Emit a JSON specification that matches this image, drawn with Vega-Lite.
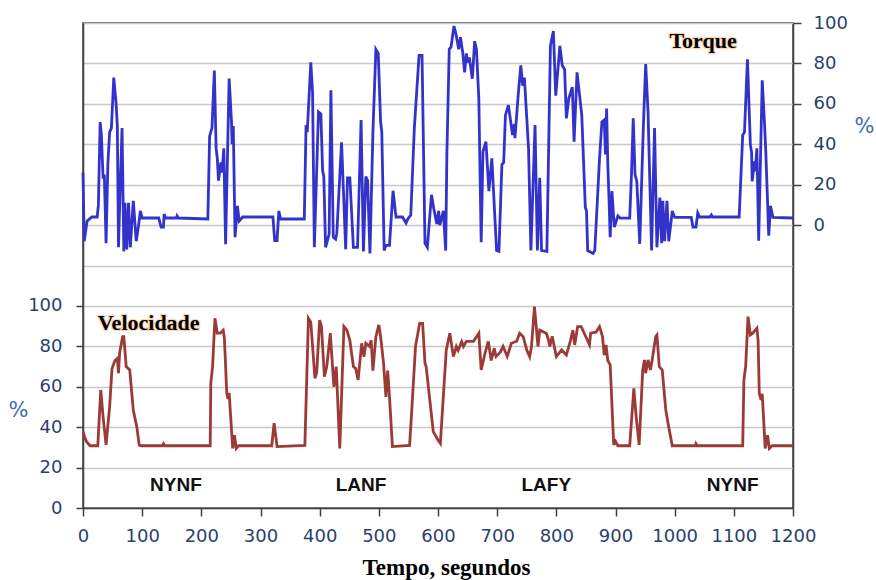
{
  "$schema": "https://vega.github.io/schema/vega-lite/v6.json",
  "width": 710,
  "height": 485,
  "autosize": {"type": "none"},
  "padding": {"left": 83, "top": 23, "right": 83, "bottom": 72},
  "background": "white",
  "config": {
    "view": {"stroke": "#404040", "strokeWidth": 1.5},
    "axis": {
      "labelFont": "DejaVu Sans",
      "labelFontSize": 18,
      "labelColor": "#2b3f6e",
      "domainColor": "#404040",
      "domainWidth": 1.5,
      "tickColor": "#404040",
      "tickWidth": 1.5
    }
  },
  "datasets": {
    "torq": [
      {"t":0,"v":26},{"t":2,"v":-8},{"t":7,"v":2},{"t":15,"v":4},{"t":24,"v":4},{"t":26,"v":10},{"t":29,"v":51},{"t":31,"v":45},{"t":34,"v":23},{"t":36,"v":25},{"t":39,"v":-9},{"t":42,"v":30},{"t":45,"v":46},{"t":48,"v":48},{"t":52,"v":73},{"t":56,"v":60},{"t":58,"v":49},{"t":60,"v":-11},{"t":63,"v":20},{"t":66,"v":48},{"t":69,"v":-13},{"t":71,"v":11},{"t":74,"v":-12},{"t":77,"v":11},{"t":80,"v":-11},{"t":85,"v":12},{"t":88,"v":0},{"t":90,"v":-8},{"t":94,"v":0},{"t":97,"v":7},{"t":100,"v":3.5},{"t":128,"v":3.5},{"t":132,"v":-1},{"t":136,"v":-1},{"t":137,"v":5.5},{"t":140,"v":3.5},{"t":158,"v":3.5},{"t":159,"v":4.5},{"t":161,"v":3.5},{"t":211,"v":3},{"t":214,"v":44},{"t":218,"v":48},{"t":222,"v":76.5},{"t":225,"v":38},{"t":227,"v":33},{"t":229,"v":22},{"t":233,"v":31},{"t":235,"v":26},{"t":238,"v":38},{"t":241,"v":-9.5},{"t":247,"v":72.5},{"t":251,"v":51},{"t":252,"v":40},{"t":254,"v":49},{"t":257,"v":-6},{"t":261,"v":9.5},{"t":264,"v":2},{"t":270,"v":4},{"t":321,"v":4},{"t":324,"v":-7.7},{"t":328,"v":-7.7},{"t":331,"v":7},{"t":334,"v":3},{"t":374,"v":3},{"t":377,"v":49.5},{"t":379,"v":46},{"t":385,"v":80.5},{"t":388,"v":66},{"t":391,"v":-11},{"t":398,"v":56},{"t":402,"v":55},{"t":405,"v":27},{"t":407,"v":24},{"t":410,"v":-11},{"t":416,"v":-4.5},{"t":419,"v":66.7},{"t":423,"v":-6},{"t":427,"v":-7},{"t":429,"v":-4},{"t":437,"v":41},{"t":444,"v":-12},{"t":447,"v":23.4},{"t":451,"v":23.4},{"t":457,"v":-11},{"t":464,"v":-11},{"t":470,"v":52},{"t":474,"v":-13},{"t":478,"v":24},{"t":481,"v":22},{"t":485,"v":-14},{"t":490,"v":46},{"t":495,"v":87},{"t":499,"v":85},{"t":503,"v":51},{"t":505,"v":46},{"t":509,"v":-12.6},{"t":512,"v":-10},{"t":518,"v":-10},{"t":524,"v":17},{"t":529,"v":4},{"t":540,"v":4},{"t":546,"v":1},{"t":549,"v":3},{"t":554,"v":5},{"t":560,"v":48},{"t":568,"v":84},{"t":573,"v":84},{"t":578,"v":-9},{"t":582,"v":-11},{"t":589,"v":15},{"t":593,"v":8},{"t":598,"v":0.5},{"t":601,"v":7},{"t":603,"v":0},{"t":609,"v":7},{"t":613,"v":-12.6},{"t":615,"v":35},{"t":619,"v":87},{"t":622,"v":88},{"t":627,"v":98.5},{"t":630,"v":95},{"t":635,"v":87},{"t":638,"v":93},{"t":642,"v":85},{"t":645,"v":75.6},{"t":648,"v":85},{"t":650,"v":80.5},{"t":653,"v":83},{"t":658,"v":72.4},{"t":662,"v":91},{"t":665,"v":87},{"t":669,"v":62.6},{"t":673,"v":-8.5},{"t":676,"v":36.4},{"t":681,"v":41.3},{"t":686,"v":16.8},{"t":691,"v":33},{"t":699,"v":-12.6},{"t":703,"v":-13},{"t":708,"v":30},{"t":711,"v":31},{"t":714,"v":54.4},{"t":719,"v":59.3},{"t":726,"v":44.6},{"t":729,"v":50},{"t":730,"v":43},{"t":736,"v":66},{"t":740,"v":79},{"t":743,"v":69},{"t":746,"v":73},{"t":753,"v":38},{"t":757,"v":-12.6},{"t":764,"v":49.5},{"t":768,"v":-12.6},{"t":772,"v":23.4},{"t":775,"v":-12.6},{"t":784,"v":-13},{"t":790,"v":88.7},{"t":795,"v":96},{"t":799,"v":64},{"t":806,"v":88.7},{"t":810,"v":79},{"t":814,"v":77},{"t":817,"v":52.8},{"t":821,"v":62.6},{"t":827,"v":68.3},{"t":830,"v":41.3},{"t":835,"v":75.6},{"t":843,"v":54.4},{"t":849,"v":8.7},{"t":851,"v":7},{"t":853,"v":-12.6},{"t":862,"v":-14},{"t":865,"v":-12.6},{"t":873,"v":33},{"t":877,"v":51},{"t":881,"v":52},{"t":883,"v":35},{"t":885,"v":57.7},{"t":887,"v":30},{"t":889,"v":13.6},{"t":891,"v":-6},{"t":894,"v":16.8},{"t":898,"v":-1},{"t":904,"v":4.6},{"t":908,"v":3.4},{"t":924,"v":3.4},{"t":927,"v":25},{"t":930,"v":52.8},{"t":933,"v":25},{"t":936,"v":21.7},{"t":941,"v":-9.3},{"t":947,"v":48},{"t":951,"v":79.7},{"t":955,"v":56},{"t":961,"v":-12.6},{"t":966,"v":48},{"t":970,"v":-11},{"t":975,"v":13.6},{"t":978,"v":-9},{"t":980,"v":12},{"t":983,"v":-8},{"t":987,"v":12},{"t":990,"v":-8},{"t":996,"v":7},{"t":1000,"v":3.8},{"t":1028,"v":3.8},{"t":1031,"v":-1},{"t":1036,"v":-1},{"t":1039,"v":6},{"t":1042,"v":4},{"t":1060,"v":4},{"t":1062,"v":5},{"t":1064,"v":4},{"t":1109,"v":4},{"t":1115,"v":44.6},{"t":1118,"v":46},{"t":1123,"v":82},{"t":1128,"v":39.7},{"t":1130,"v":36},{"t":1131,"v":21.7},{"t":1135,"v":31.5},{"t":1136,"v":26.6},{"t":1139,"v":38},{"t":1142,"v":-7.7},{"t":1148,"v":71.6},{"t":1152,"v":49.5},{"t":1154,"v":36.4},{"t":1159,"v":-5.2},{"t":1162,"v":9.5},{"t":1166,"v":3.8},{"t":1200,"v":3.5}
    ],
    "vel": [
      {"t":0,"v":37.8},{"t":3,"v":35},{"t":6,"v":32.8},{"t":12,"v":30.8},{"t":25,"v":30.8},{"t":30,"v":58.4},{"t":34,"v":45},{"t":39,"v":31.2},{"t":45,"v":50},{"t":49,"v":69},{"t":54,"v":73},{"t":58,"v":74},{"t":60,"v":66.7},{"t":62,"v":77},{"t":67,"v":84.8},{"t":69,"v":84.8},{"t":73,"v":70},{"t":79,"v":68.3},{"t":85,"v":48.5},{"t":91,"v":40},{"t":95,"v":31.2},{"t":98,"v":30.8},{"t":134,"v":30.8},{"t":136,"v":31.8},{"t":138,"v":30.8},{"t":215,"v":30.8},{"t":216,"v":61.7},{"t":219,"v":70},{"t":223,"v":93.9},{"t":227,"v":86.5},{"t":232,"v":86.5},{"t":237,"v":88},{"t":239,"v":84},{"t":243,"v":56.8},{"t":245,"v":54},{"t":247,"v":57},{"t":253,"v":29.5},{"t":256,"v":36},{"t":259,"v":29.5},{"t":263,"v":30.8},{"t":319,"v":30.8},{"t":323,"v":42},{"t":328,"v":30.4},{"t":375,"v":31},{"t":381,"v":93.9},{"t":385,"v":92},{"t":392,"v":64.2},{"t":395,"v":67},{"t":400,"v":93},{"t":403,"v":90},{"t":408,"v":65},{"t":412,"v":70},{"t":418,"v":86.5},{"t":424,"v":60},{"t":428,"v":70},{"t":434,"v":29.5},{"t":441,"v":89.8},{"t":446,"v":88},{"t":451,"v":83},{"t":457,"v":70},{"t":461,"v":69},{"t":465,"v":63.4},{"t":471,"v":81.5},{"t":475,"v":74.9},{"t":478,"v":81.5},{"t":484,"v":80},{"t":487,"v":83},{"t":490,"v":68},{"t":495,"v":84.8},{"t":500,"v":90.6},{"t":503,"v":84.8},{"t":508,"v":71.6},{"t":512,"v":55},{"t":515,"v":68},{"t":518,"v":55},{"t":523,"v":30.4},{"t":552,"v":31},{"t":556,"v":50},{"t":562,"v":80},{"t":569,"v":91.4},{"t":574,"v":91.4},{"t":578,"v":71.6},{"t":580,"v":70},{"t":592,"v":37.8},{"t":600,"v":33.7},{"t":604,"v":32},{"t":614,"v":78.2},{"t":620,"v":86.5},{"t":626,"v":74.9},{"t":631,"v":79.9},{"t":634,"v":78},{"t":640,"v":82.3},{"t":643,"v":79.9},{"t":648,"v":82.5},{"t":660,"v":82.5},{"t":669,"v":86.5},{"t":673,"v":68.3},{"t":679,"v":76},{"t":685,"v":82.4},{"t":690,"v":73},{"t":695,"v":79},{"t":698,"v":75},{"t":705,"v":77},{"t":710,"v":80},{"t":717,"v":75},{"t":724,"v":81.5},{"t":733,"v":82.5},{"t":738,"v":86.5},{"t":744,"v":84.8},{"t":750,"v":78.2},{"t":755,"v":74.9},{"t":758,"v":79.9},{"t":763,"v":99.7},{"t":769,"v":79.9},{"t":772,"v":88},{"t":783,"v":86.5},{"t":786,"v":84},{"t":789,"v":80},{"t":793,"v":85},{"t":800,"v":74.9},{"t":809,"v":78.2},{"t":817,"v":75.7},{"t":824,"v":83},{"t":828,"v":88},{"t":831,"v":80.7},{"t":836,"v":89.8},{"t":842,"v":89.8},{"t":851,"v":84},{"t":856,"v":80.7},{"t":858,"v":86.5},{"t":867,"v":87},{"t":873,"v":89.8},{"t":878,"v":84.8},{"t":881,"v":75.7},{"t":884,"v":80.7},{"t":887,"v":73},{"t":891,"v":70.8},{"t":897,"v":31.2},{"t":900,"v":33},{"t":904,"v":30.8},{"t":924,"v":30.8},{"t":931,"v":59.2},{"t":935,"v":45},{"t":940,"v":31.2},{"t":946,"v":68.3},{"t":949,"v":73.3},{"t":951,"v":66.7},{"t":955,"v":73.3},{"t":959,"v":68.3},{"t":962,"v":73.3},{"t":968,"v":84.8},{"t":970,"v":85.6},{"t":974,"v":70},{"t":979,"v":68.3},{"t":985,"v":48.5},{"t":990,"v":40},{"t":996,"v":30.8},{"t":1035,"v":30.8},{"t":1036,"v":31.8},{"t":1038,"v":30.8},{"t":1115,"v":30.8},{"t":1117,"v":63.4},{"t":1120,"v":70},{"t":1124,"v":94.7},{"t":1128,"v":85.6},{"t":1132,"v":86.5},{"t":1139,"v":89},{"t":1141,"v":83},{"t":1143,"v":56.8},{"t":1146,"v":53.5},{"t":1148,"v":56.5},{"t":1153,"v":29.5},{"t":1157,"v":36},{"t":1160,"v":29.5},{"t":1165,"v":30.8},{"t":1200,"v":30.8}
    ],
    "regions": [
      {"t":157,"v":8.6,"label":"NYNF"},
      {"t":470,"v":8.6,"label":"LANF"},
      {"t":783,"v":8.6,"label":"LAFY"},
      {"t":1098,"v":8.6,"label":"NYNF"}
    ],
    "titles": [
      {"t":1048,"v":227.5,"label":"Torque"},
      {"t":111,"v":88,"label":"Velocidade"}
    ]
  },
  "encoding": {
    "x": {
      "field": "t",
      "type": "quantitative",
      "scale": {"domain": [0, 1200], "nice": false, "zero": false},
      "axis": {
        "values": [0,100,200,300,400,500,600,700,800,900,1000,1100,1200],
        "format": "d",
        "grid": false,
        "tickSize": 8,
        "labelPadding": 11,
        "labelFlush": false,
        "labelOverlap": false,
        "title": "Tempo, segundos",
        "titleFont": "Liberation Serif",
        "titleFontWeight": "bold",
        "titleFontSize": 23,
        "titleColor": "black",
        "titleX": 363,
        "titleY": 66,
        "titleAlign": "center",
        "titleBaseline": "alphabetic"
      }
    }
  },
  "layer": [
    {
      "encoding": {
        "y": {
          "field": "v",
          "type": "quantitative",
          "scale": {"domain": [0, 240], "nice": false, "zero": false},
          "axis": {
            "orient": "left",
            "values": [0,20,40,60,80,100,120,140,160,180,200,220,240],
            "grid": true,
            "gridColor": "#c8c8c8",
            "gridWidth": 1.5,
            "tickSize": 7,
            "tickOpacity": {"condition": {"test": "datum.value <= 100", "value": 1}, "value": 0},
            "labelExpr": "datum.value <= 100 ? datum.label : ''",
            "labelPadding": 14,
            "title": "%",
            "titleAngle": 0,
            "titleX": -65,
            "titleY": 387,
            "titleAlign": "center",
            "titleBaseline": "middle",
            "titleFont": "DejaVu Sans",
            "titleFontWeight": "normal",
            "titleFontSize": 21,
            "titleColor": "#3d6bb3"
          }
        }
      },
      "layer": [
        {
          "data": {"name": "vel"},
          "mark": {"type": "line", "color": "#9b3a36", "strokeWidth": 2.8, "interpolate": "linear"},
          "encoding": {}
        },
        {
          "data": {"name": "regions"},
          "mark": {"type": "text", "font": "Liberation Sans", "fontWeight": "bold", "fontSize": 19, "color": "#111111", "align": "center", "baseline": "alphabetic"},
          "encoding": {"text": {"field": "label"}}
        },
        {
          "data": {"name": "titles"},
          "mark": {"type": "text", "font": "Liberation Serif", "fontWeight": "bold", "fontSize": 22, "color": "#f3c08a", "stroke": "#f3c08a", "strokeWidth": 2.5, "opacity": 0.6, "align": "center", "baseline": "alphabetic"},
          "encoding": {"text": {"field": "label"}}
        },
        {
          "data": {"name": "titles"},
          "mark": {"type": "text", "font": "Liberation Serif", "fontWeight": "bold", "fontSize": 22, "color": "#000000", "align": "center", "baseline": "alphabetic"},
          "encoding": {"text": {"field": "label"}}
        }
      ]
    },
    {
      "data": {"name": "torq"},
      "mark": {"type": "line", "color": "#3333cc", "strokeWidth": 2.8, "interpolate": "linear"},
      "encoding": {
        "y": {
          "field": "v",
          "type": "quantitative",
          "scale": {"domain": [-140, 100], "nice": false, "zero": false},
          "axis": {
            "orient": "right",
            "values": [0,20,40,60,80,100],
            "grid": false,
            "tickSize": 8,
            "labelPadding": 12,
            "title": "%",
            "titleAngle": 0,
            "titleX": 71,
            "titleY": 103,
            "titleAlign": "center",
            "titleBaseline": "middle",
            "titleFont": "DejaVu Sans",
            "titleFontWeight": "normal",
            "titleFontSize": 21,
            "titleColor": "#3d6bb3"
          }
        }
      }
    }
  ],
  "resolve": {"scale": {"y": "independent"}}
}
